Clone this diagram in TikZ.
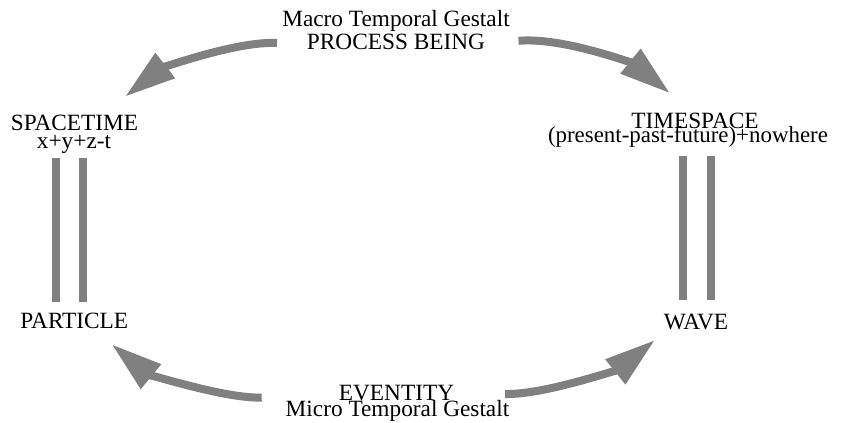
\documentclass[tikz,border=0pt]{standalone}
\usepackage{fontspec}
\setmainfont{Liberation Serif}
\usetikzlibrary{arrows.meta,positioning}
\definecolor{flowgray}{RGB}{128,128,128}
\tikzset{
    >={Triangle[length=51pt,width=30pt]},
    word/.style={inner sep=0pt,anchor=base,font=\fontsize{23.3}{24}\selectfont},
    flow/.style={flowgray,line width=8pt,->},
    rail/.style={flowgray,line width=8pt}
}

\begin{document}
\begin{tikzpicture}[x=1pt,y=-1pt]
        \useasboundingbox (0,0) rectangle (844,423);
        % labels
        \node[word] (macro) at (396,26.5) {Macro Temporal Gestalt};
        \node[word] (being) at (396,49) {PROCESS BEING};
        \node[word] (spacetime) at (74.5,130) {SPACETIME};
        \node[word] (xyzt) at (74,148) {x+y+z-t};
        \node[word] (timespace) at (695,128) {TIMESPACE};
        \node[word,font=\fontsize{22.9}{24}\selectfont] (ppf) at (688,142) {(present-past-future)+nowhere};
        \node[word] (particle) at (74.3,328) {PARTICLE};
        \node[word] (wave) at (696,329.3) {WAVE};
        \node[word] (eventity) at (396.5,400.3) {EVENTITY};
        \node[word] (micro) at (397.5,416) {Micro Temporal Gestalt};
        % rails
        \coordinate (l1 top) at (56,158);  \coordinate (l1 bot) at (56,302);
        \coordinate (l2 top) at (83,158);  \coordinate (l2 bot) at (83,302);
        \coordinate (r1 top) at (683,156); \coordinate (r1 bot) at (683,300);
        \coordinate (r2 top) at (711,156); \coordinate (r2 bot) at (711,300);
        \draw[rail] (l1 top) -- (l1 bot);
        \draw[rail] (l2 top) -- (l2 bot);
        \draw[rail] (r1 top) -- (r1 bot);
        \draw[rail] (r2 top) -- (r2 bot);
        % curved arrows
        \coordinate (tl tail) at (277,43);     \coordinate (tl tip) at (125,96.7);
        \coordinate (tr tail) at (518.5,40.8); \coordinate (tr tip) at (670,93.3);
        \coordinate (bl tail) at (261.7,397.5);\coordinate (bl tip) at (111.7,344.3);
        \coordinate (br tail) at (505,394);    \coordinate (br tip) at (655,340);
        \draw[flow] (tl tail) .. controls (235,41) and (160.6,69.1) .. (tl tip);
        \draw[flow] (tr tail) .. controls (565,37) and (635.1,64.9) .. (tr tip);
        \draw[flow] (bl tail) .. controls (225,399) and (146.4,372.9) .. (bl tip);
        \draw[flow] (br tail) .. controls (545,395) and (619.9,368.2) .. (br tip);
    \end{tikzpicture}
\end{document}
